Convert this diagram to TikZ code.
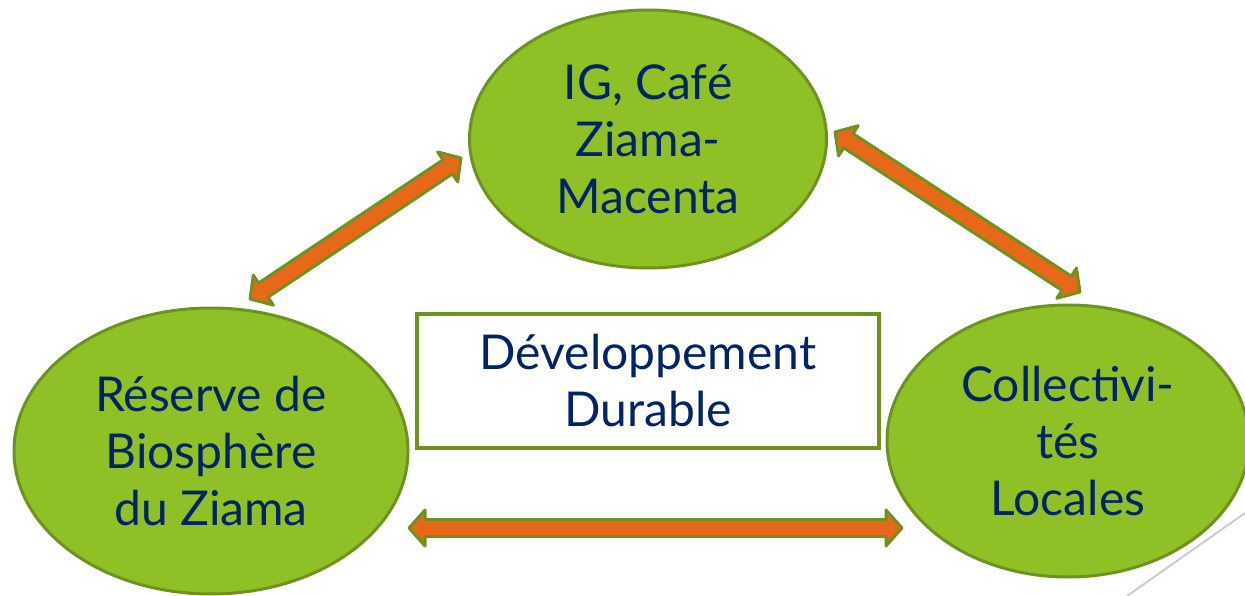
\documentclass[tikz,border=0pt]{standalone}
\usepackage{fontspec}
\setmainfont{Lato}
\usepackage{tikz}
\usetikzlibrary{calc, shapes}

\definecolor{leaf}{RGB}{143,193,38}
\definecolor{leafdark}{RGB}{110,146,30}
\definecolor{rust}{RGB}{232,104,26}
\definecolor{navy}{RGB}{0,36,102}

% block arrow with a head at both ends, between two named points
\newcommand{\dblarrow}[2]{%
  \coordinate (#1-h) at ($(#1)!16pt!(#2)$);
  \coordinate (#2-h) at ($(#2)!16pt!(#1)$);
  \draw[link] (#1) -- ($(#1-h)!18pt!90:(#2)$) -- ($(#1-h)!8.5pt!90:(#2)$)
    -- ($(#2-h)!8.5pt!-90:(#1)$) -- ($(#2-h)!18pt!-90:(#1)$) -- (#2)
    -- ($(#2-h)!18pt!90:(#1)$) -- ($(#2-h)!8.5pt!90:(#1)$)
    -- ($(#1-h)!8.5pt!-90:(#2)$) -- ($(#1-h)!18pt!-90:(#2)$) -- cycle;}

\begin{document}
\begin{tikzpicture}
  [
    x = 1pt, y = -1pt,
    pole/.style = {ellipse, draw = leafdark, line width = 3pt, fill = leaf,
                   inner sep = 0pt, align = center, text = navy,
                   font = \fontsize{48}{57}\selectfont,
                   execute at begin node = {\vspace*{7pt}}},
    goal/.style = {rectangle, draw = leafdark, line width = 3.5pt, fill = white,
                   inner sep = 0pt, align = center, text = navy,
                   minimum width = 462pt, minimum height = 134pt,
                   font = \fontsize{48}{57}\selectfont,
                   execute at begin node = {\vspace*{7pt}}},
    link/.style = {draw = leafdark, fill = rust, line width = 3pt, line join = round},
    slideline/.style = {draw = black!20, line width = 2pt}
  ]
  \useasboundingbox (0,0) rectangle (1245,596);

  \node[pole, minimum width = 357pt, minimum height = 258pt] (IG) at (648,139)
    {IG, Café\\Ziama-\\Macenta};
  \node[pole, minimum width = 394pt, minimum height = 286pt] (RB) at (211,451)
    {Réserve de\\Biosphère\\du Ziama};
  \node[pole, minimum width = 362pt, minimum height = 272pt] (CL) at (1068,441)
    {Collectivi-\\tés\\Locales};
  \node[goal] (DD) at (648,381) {Développement\\Durable};

  % arrow ends
  \coordinate (RB-a) at (250,299);
  \coordinate (IG-a) at (461,158);
  \coordinate (IG-b) at (835,132);
  \coordinate (CL-a) at (1080,292);
  \coordinate (RB-b) at (409,528);
  \coordinate (CL-b) at (902,528);

  \dblarrow{RB-a}{IG-a}
  \dblarrow{IG-b}{CL-a}
  \dblarrow{RB-b}{CL-b}

  \draw[slideline] (1245,513) -- (1127,596);
\end{tikzpicture}
\end{document}
